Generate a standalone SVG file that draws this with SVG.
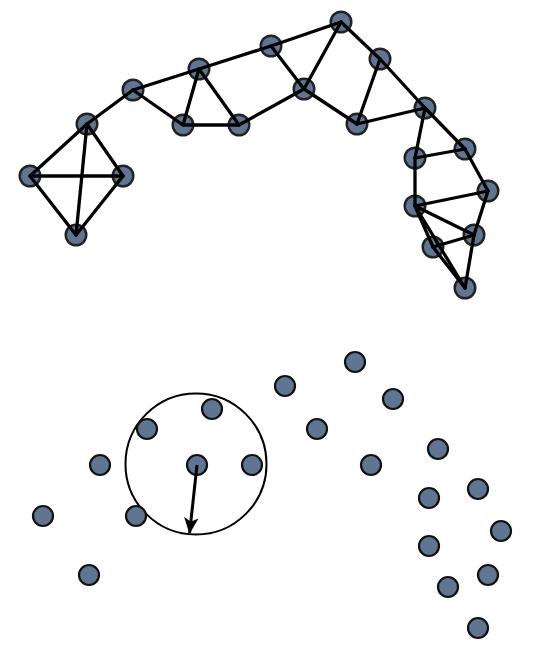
<svg xmlns="http://www.w3.org/2000/svg" width="536" height="655" viewBox="0 0 536 655">
<defs>
<style>
.n circle{fill:#5f7592;stroke:#111;stroke-width:2.2}
.t circle{fill:#5f7592;stroke:#222;stroke-width:2.4}
.e line{stroke:#000;stroke-width:3.3;stroke-linecap:round}
</style>
<marker id="ah" viewBox="0 0 16 14" refX="15" refY="7" markerWidth="5.5" markerHeight="4.9" orient="auto" markerUnits="strokeWidth">
<path d="M0,0 L16,7 L0,14 L4,7 Z" fill="#000"/>
</marker>
</defs>
<rect width="536" height="655" fill="#fff"/>
<g id="top-nodes" class="t">
<g id="a"><circle cx="87" cy="124" r="10.3"/></g>
<g id="b"><circle cx="30" cy="176" r="10.3"/></g>
<g id="c"><circle cx="123" cy="176" r="10.3"/></g>
<g id="d"><circle cx="76" cy="235" r="10.3"/></g>
<g id="e"><circle cx="133" cy="90" r="10.3"/></g>
<g id="f"><circle cx="199" cy="69" r="10.3"/></g>
<g id="g"><circle cx="183" cy="125" r="10.3"/></g>
<g id="h"><circle cx="239" cy="125" r="10.3"/></g>
<g id="i"><circle cx="271" cy="46" r="10.3"/></g>
<g id="j"><circle cx="341" cy="22" r="10.3"/></g>
<g id="k"><circle cx="304" cy="89" r="10.3"/></g>
<g id="l"><circle cx="380" cy="59" r="10.3"/></g>
<g id="m"><circle cx="357" cy="124" r="10.3"/></g>
<g id="n"><circle cx="425" cy="108" r="10.3"/></g>
<g id="o"><circle cx="415" cy="158" r="10.3"/></g>
<g id="p"><circle cx="465" cy="149" r="10.3"/></g>
<g id="q"><circle cx="488" cy="191" r="10.3"/></g>
<g id="r"><circle cx="415" cy="206" r="10.3"/></g>
<g id="s"><circle cx="474" cy="235" r="10.3"/></g>
<g id="t"><circle cx="433" cy="247" r="10.3"/></g>
<g id="u"><circle cx="465" cy="288" r="10.3"/></g>
</g>
<g id="connectors" class="e">
<line x1="87" y1="124" x2="30" y2="176"/>
<line x1="87" y1="124" x2="123" y2="176"/>
<line x1="87" y1="124" x2="76" y2="235"/>
<line x1="30" y1="176" x2="123" y2="176"/>
<line x1="30" y1="176" x2="76" y2="235"/>
<line x1="123" y1="176" x2="76" y2="235"/>
<line x1="87" y1="124" x2="133" y2="90"/>
<line x1="133" y1="90" x2="199" y2="69"/>
<line x1="133" y1="90" x2="183" y2="125"/>
<line x1="199" y1="69" x2="183" y2="125"/>
<line x1="199" y1="69" x2="239" y2="125"/>
<line x1="183" y1="125" x2="239" y2="125"/>
<line x1="199" y1="69" x2="271" y2="46"/>
<line x1="239" y1="125" x2="304" y2="89"/>
<line x1="271" y1="46" x2="304" y2="89"/>
<line x1="271" y1="46" x2="341" y2="22"/>
<line x1="341" y1="22" x2="304" y2="89"/>
<line x1="341" y1="22" x2="380" y2="59"/>
<line x1="304" y1="89" x2="357" y2="124"/>
<line x1="380" y1="59" x2="357" y2="124"/>
<line x1="380" y1="59" x2="425" y2="108"/>
<line x1="357" y1="124" x2="425" y2="108"/>
<line x1="425" y1="108" x2="415" y2="158"/>
<line x1="425" y1="108" x2="465" y2="149"/>
<line x1="415" y1="158" x2="465" y2="149"/>
<line x1="415" y1="158" x2="415" y2="206"/>
<line x1="465" y1="149" x2="488" y2="191"/>
<line x1="415" y1="206" x2="488" y2="191"/>
<line x1="488" y1="191" x2="474" y2="235"/>
<line x1="415" y1="206" x2="474" y2="235"/>
<line x1="415" y1="206" x2="433" y2="247"/>
<line x1="415" y1="206" x2="465" y2="288"/>
<line x1="433" y1="247" x2="474" y2="235"/>
<line x1="433" y1="247" x2="465" y2="288"/>
<line x1="474" y1="235" x2="465" y2="288"/>
</g>
<g id="radius">
<circle cx="196" cy="464" r="70.5" fill="none" stroke="#000" stroke-width="2"/>
</g>
<g id="bottom-nodes" class="n">
<g id="b1"><circle cx="212" cy="409" r="10"/></g>
<g id="b2"><circle cx="147" cy="429" r="10"/></g>
<g id="b3"><circle cx="100" cy="465" r="10"/></g>
<g id="b4"><circle cx="197" cy="465" r="10"/></g>
<g id="b5"><circle cx="252" cy="465" r="10"/></g>
<g id="b6"><circle cx="43" cy="516" r="10"/></g>
<g id="b7"><circle cx="136" cy="516" r="10"/></g>
<g id="b8"><circle cx="89" cy="575" r="10"/></g>
<g id="b9"><circle cx="355" cy="362" r="10"/></g>
<g id="b10"><circle cx="285" cy="386" r="10"/></g>
<g id="b11"><circle cx="393" cy="399" r="10"/></g>
<g id="b12"><circle cx="317" cy="429" r="10"/></g>
<g id="b13"><circle cx="438" cy="449" r="10"/></g>
<g id="b14"><circle cx="371" cy="465" r="10"/></g>
<g id="b15"><circle cx="478" cy="489" r="10"/></g>
<g id="b16"><circle cx="429" cy="498" r="10"/></g>
<g id="b17"><circle cx="501" cy="531" r="10"/></g>
<g id="b18"><circle cx="429" cy="546" r="10"/></g>
<g id="b19"><circle cx="488" cy="575" r="10"/></g>
<g id="b20"><circle cx="448" cy="587" r="10"/></g>
<g id="b21"><circle cx="478" cy="628" r="10"/></g>
</g>
<g id="arrow">
<line x1="197" y1="465" x2="189.6" y2="533" stroke="#000" stroke-width="3" marker-end="url(#ah)"/>
</g>
</svg>
